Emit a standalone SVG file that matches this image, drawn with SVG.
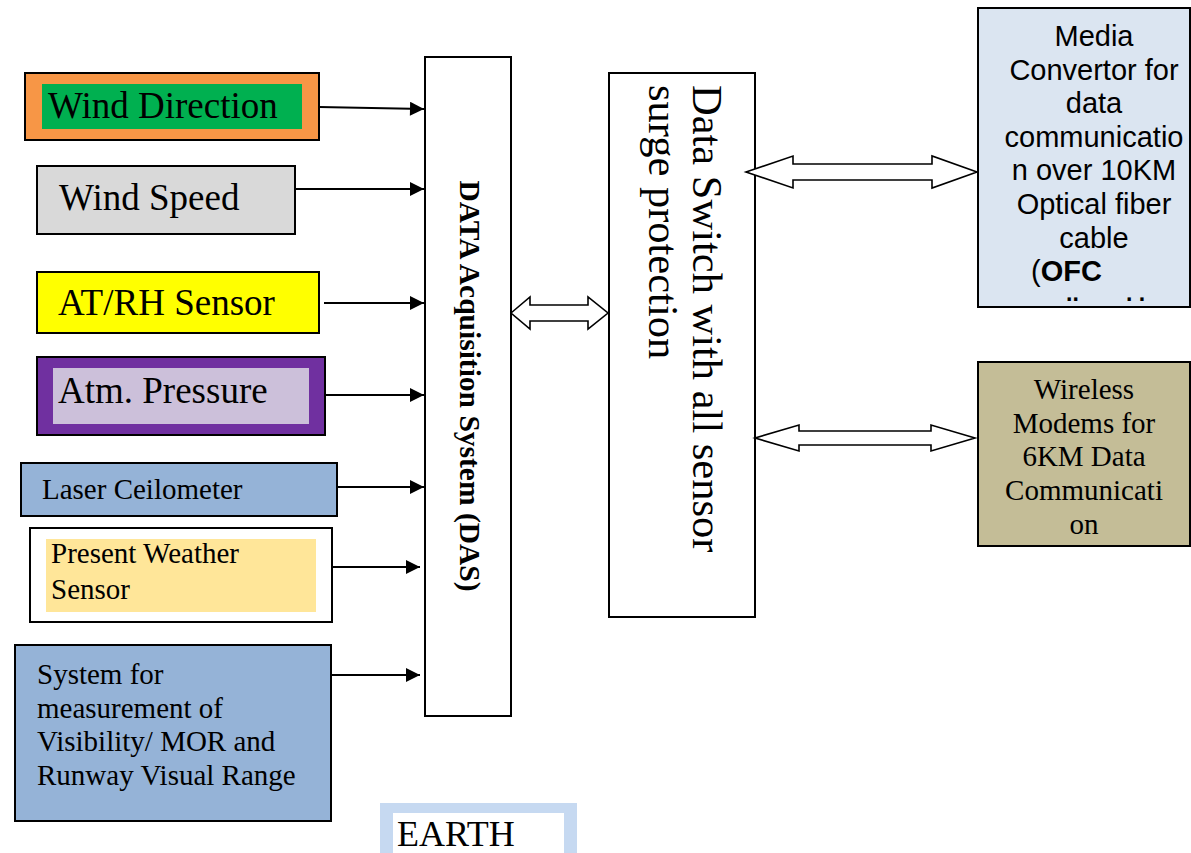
<svg xmlns="http://www.w3.org/2000/svg" width="1191" height="853" viewBox="0 0 1191 853">
<defs>
<style>
.t{font-family:"Liberation Serif","Times New Roman",serif;fill:#000}
.a{font-family:"Liberation Sans",Arial,sans-serif;fill:#000}
.box{stroke:#000;stroke-width:2}
.ln{stroke:#000;stroke-width:2;fill:none}
.blk{fill:#fff;stroke:#000;stroke-width:1.6;stroke-linejoin:miter}
</style>
<marker id="ah" viewBox="0 0 10 10" refX="10" refY="5" markerWidth="8" markerHeight="7" markerUnits="strokeWidth" orient="auto">
<path d="M0,0 L10,5 L0,10 z" fill="#000"/>
</marker>
</defs>
<rect width="1191" height="853" fill="#fff"/>

<g id="wind-direction">
<rect class="box" x="25" y="73" width="294" height="67" fill="#F79646"/>
<rect x="42" y="84" width="260" height="45" fill="#00B050"/>
<text class="t" x="48" y="118" font-size="37">Wind Direction</text>
</g>
<g id="wind-speed">
<rect class="box" x="37" y="166" width="258" height="68" fill="#D9D9D9"/>
<text class="t" x="59" y="210" font-size="37">Wind Speed</text>
</g>
<g id="at-rh">
<rect class="box" x="37" y="272" width="282" height="61" fill="#FFFF00"/>
<text class="t" x="58" y="315" font-size="37">AT/RH Sensor</text>
</g>
<g id="atm-pressure">
<rect class="box" x="37" y="357" width="288" height="78" fill="#7030A0"/>
<rect x="53" y="368" width="256" height="56" fill="#CCC0DA"/>
<text class="t" x="58" y="403" font-size="37">Atm. Pressure</text>
</g>
<g id="laser-ceilometer">
<rect class="box" x="21" y="463" width="316" height="53" fill="#95B3D7"/>
<text class="t" x="42" y="499" font-size="29">Laser Ceilometer</text>
</g>
<g id="present-weather">
<rect class="box" x="30" y="528" width="302" height="94" fill="#fff"/>
<rect x="46" y="539" width="270" height="73" fill="#FFE699"/>
<text class="t" x="51" y="563" font-size="29">Present Weather</text>
<text class="t" x="51" y="599" font-size="29">Sensor</text>
</g>
<g id="visibility-system">
<rect class="box" x="15" y="645" width="316" height="176" fill="#95B3D7"/>
<text class="t" x="37" y="684" font-size="29">System for</text>
<text class="t" x="37" y="717.5" font-size="29">measurement of</text>
<text class="t" x="37" y="751" font-size="29">Visibility/ MOR and</text>
<text class="t" x="37" y="785" font-size="29">Runway Visual Range</text>
</g>
<g id="das">
<rect class="box" x="425" y="57" width="86" height="659" fill="#fff"/>
<text class="t" transform="translate(460,386) rotate(90)" text-anchor="middle" font-size="29.5" font-weight="bold">DATA Acquisition System (DAS)</text>
</g>
<g id="data-switch">
<rect class="box" x="609" y="73" width="146" height="544" fill="#fff"/>
<text class="t" transform="translate(693,85) rotate(90)" font-size="42.5">Data Switch with all sensor</text>
<text class="t" transform="translate(649,85) rotate(90)" font-size="42.5">surge protection</text>
</g>
<g id="media-convertor">
<rect class="box" x="978" y="8" width="212" height="299" fill="#DBE5F1"/>
<g class="a" font-size="29" text-anchor="middle">
<text x="1094" y="46">Media</text>
<text x="1094" y="80">Convertor for</text>
<text x="1094" y="113">data</text>
<text x="1094" y="147">communicatio</text>
<text x="1094" y="180">n over 10KM</text>
<text x="1094" y="214">Optical fiber</text>
<text x="1094" y="248">cable</text>
</g>
<text class="a" x="1031" y="281" font-size="29">(<tspan font-weight="bold">OFC</tspan></text>
<text class="a" x="1066" y="301" font-size="23" font-weight="bold">..</text>
<text class="a" x="1126" y="301" font-size="23" font-weight="bold">. .</text>
</g>
<g id="wireless-modems">
<rect class="box" x="978" y="362" width="212" height="184" fill="#C4BD97"/>
<g class="t" font-size="29" text-anchor="middle">
<text x="1084" y="399">Wireless</text>
<text x="1084" y="433">Modems for</text>
<text x="1084" y="466">6KM Data</text>
<text x="1084" y="500">Communicati</text>
<text x="1084" y="534">on</text>
</g>
</g>
<g id="earth">
<rect x="380" y="803" width="197" height="50" fill="#C6D9F1"/>
<rect x="393" y="813" width="171" height="40" fill="#fff"/>
<text class="t" x="397" y="846" font-size="36">EARTH</text>
</g>

<g id="connectors">
<line class="ln" x1="319" y1="107" x2="424" y2="109" marker-end="url(#ah)"/>
<line class="ln" x1="295" y1="189" x2="424" y2="189" marker-end="url(#ah)"/>
<line class="ln" x1="324" y1="303" x2="424" y2="303" marker-end="url(#ah)"/>
<line class="ln" x1="325" y1="395" x2="424" y2="395" marker-end="url(#ah)"/>
<line class="ln" x1="337" y1="487" x2="424" y2="487" marker-end="url(#ah)"/>
<line class="ln" x1="332" y1="567" x2="420" y2="567" marker-end="url(#ah)"/>
<line class="ln" x1="331" y1="675" x2="420" y2="675" marker-end="url(#ah)"/>
<polygon class="blk" points="511,313 530,297 530,305 588,305 588,297 608,313 588,329 588,321 530,321 530,329"/>
<polygon class="blk" points="746,172 793,156 793,164 932,164 932,156 977,172 932,188 932,180 793,180 793,188"/>
<polygon class="blk" points="755,438 799,425 799,431 931,431 931,425 975,438 931,451 931,445 799,445 799,451"/>
</g>
</svg>
